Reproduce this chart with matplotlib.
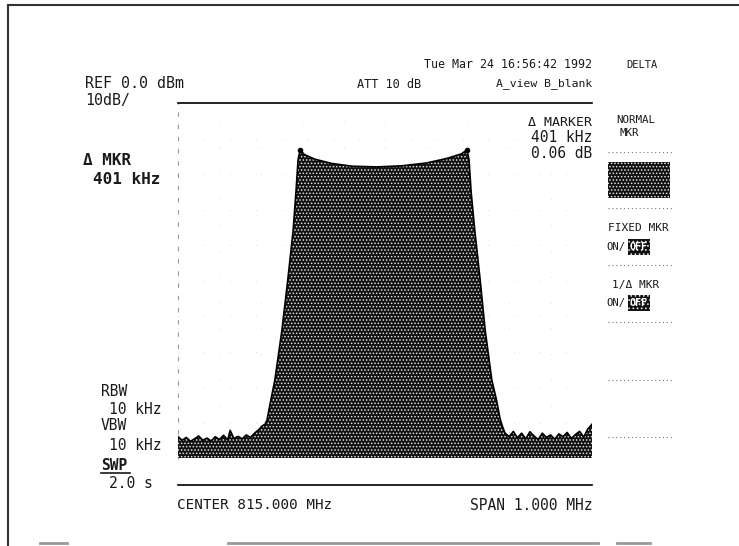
import matplotlib.pyplot as plt
from matplotlib.lines import Line2D
from matplotlib.patches import Rectangle

# trace (offset from 815.000 MHz in kHz, level in dBm)
freq_khz = [-500, -490, -480, -470, -460, -450, -440, -430, -420, -410,
            -400, -390, -380, -374, -365, -355, -345, -335, -325, -315,
            -305, -297, -290, -285, -278, -266, -249, -235, -222, -215,
            -210, -205, -195, -170, -130, -80, -20, 40, 100, 150,
            185, 198, 203, 208, 217, 230, 242, 258, 270, 278,
            285, 290, 300, 310, 320, 330, 340, 350, 360, 370,
            380, 390, 400, 410, 420, 430, 440, 450, 460, 470,
            480, 490, 500]
level_db = [-94.0, -95.0, -94.2, -95.3, -94.6, -93.8, -95.0, -94.4, -95.2, -94.0,
            -94.8, -93.6, -94.9, -92.2, -94.5, -93.9, -94.6, -93.5, -94.2, -93.0,
            -92.0, -91.0, -90.5, -89.3, -85.0, -78.0, -64.0, -50.0, -36.0, -25.0,
            -16.0, -13.2, -14.5, -15.8, -17.0, -17.8, -18.0, -17.7, -16.9, -15.6,
            -14.3, -13.2, -16.0, -25.0, -36.0, -50.0, -64.0, -78.0, -84.0, -89.0,
            -91.5, -93.0, -94.0, -92.5, -94.3, -93.0, -94.6, -92.6, -93.8, -94.8,
            -93.0, -94.2, -93.5, -94.7, -93.2, -94.0, -92.8, -94.5, -93.4, -92.5,
            -94.1, -91.8, -90.5]
marker_khz = [-205, 198]
marker_db = [-13.2, -13.2]

W, H = 739, 546
plt.rcParams['hatch.linewidth'] = 0.7
fig = plt.figure(figsize=(W / 100, H / 100), dpi=100)


def px(x, y):
    return x / W, 1 - y / H


dark = '#111111'
ax = fig.add_axes([178 / W, 1 - 458 / H, 414 / W, 355 / H])
ax.fill_between(freq_khz, level_db, -100, facecolor=dark, edgecolor='#e0e0e0',
                hatch='.....', linewidth=0, zorder=3)
ax.plot(freq_khz, level_db, color='black', lw=1.2, zorder=4)
ax.plot(marker_khz, marker_db, 'o', color='black', ms=3, zorder=5)
ax.set_xlim(-500, 500)
ax.set_ylim(-100, 0)
ax.set_xticks(range(-500, 501, 100))
ax.set_yticks(range(-100, 1, 10))
ax.grid(True, color='#d0d0d0', lw=0.6, ls=(0, (1, 30)))
ax.tick_params(length=0, labelbottom=False, labelleft=False)
ax.spines['right'].set_visible(False)
ax.spines['left'].set_color('#999999')
ax.spines['left'].set_linestyle((0, (3, 8)))
ax.spines['left'].set_linewidth(0.8)
ax.spines['top'].set_linewidth(1.2)
ax.spines['bottom'].set_position(('outward', 19.4))
ax.spines['bottom'].set_linewidth(1.2)

mono = 'DejaVu Sans Mono'
ink = '#1a1a1a'


def label(x, y, s, size, ha='left', **kw):
    kw.setdefault('color', ink)
    fig.text(*px(x, y), s, fontsize=size, ha=ha, va='center', family=mono, **kw)


# header
label(592, 65, 'Tue Mar 24 16:56:42 1992', 8.4, ha='right')
label(626, 65, 'DELTA', 7.5)
label(85, 84, 'REF 0.0 dBm', 10.8)
label(85, 100, '10dB/', 10.8)
label(357, 84, 'ATT 10 dB', 8.6)
label(592, 84, 'A_view B_blank', 8.2, ha='right')
label(592, 122, 'Δ MARKER', 9.5, ha='right')
label(592, 138, '401 kHz', 10.5, ha='right')
label(592, 154, '0.06 dB', 10.5, ha='right')

# left annotations
label(83, 160, 'Δ MKR', 11.5, weight='bold')
label(93, 180, '401 kHz', 11.5, weight='bold')
label(101, 392, 'RBW', 10.5)
label(109, 409, '10 kHz', 10.5)
label(101, 426, 'VBW', 10.5)
label(109, 445, '10 kHz', 10.5)
label(101, 465, 'SWP', 10.5, weight='bold')
fig.add_artist(Line2D([101 / W, 130 / W], [1 - 473 / H] * 2, color=ink, lw=1.2))
label(109, 484, '2.0 s', 10.5)
label(177, 505, 'CENTER 815.000 MHz', 10.3)
label(592, 505, 'SPAN 1.000 MHz', 10.5, ha='right')

# softkey column
label(616, 120, 'NORMAL', 7.8)
label(619, 133, 'MKR', 7.8)
for yy in [152, 208, 265, 322, 380, 437]:
    fig.add_artist(Line2D([608 / W, 672 / W], [1 - yy / H] * 2, color='#777777',
                          lw=0.8, ls=(0, (1, 2.5))))
fig.add_artist(Rectangle(px(608, 198), 62 / W, 36 / H, facecolor=dark,
                         edgecolor='#e0e0e0', hatch='.....', lw=0))
label(608, 228, 'FIXED MKR', 8.0)
for yy in [247, 303]:
    label(606, yy, 'ON/', 7.6)
    fig.add_artist(Rectangle(px(628, yy + 8), 22 / W, 16 / H, facecolor=dark,
                             edgecolor='#e0e0e0', hatch='....', lw=0))
    label(639, yy, 'OFF', 7.2, ha='center', weight='bold', color='white')
label(612, 285, '1/Δ MKR', 8.0)

# page frame of the scan
fig.add_artist(Line2D([8 / W, 1], [1 - 5 / H] * 2, color='#333333', lw=1.5))
fig.add_artist(Line2D([8 / W, 8 / W], [1 - 5 / H, 0], color='#333333', lw=1.5))
for x0, x1 in [(40, 67), (228, 598), (617, 650)]:
    fig.add_artist(Line2D([x0 / W, x1 / W], [1 - 543 / H] * 2, color='#999999', lw=2))

fig.savefig('out.png', dpi=100)
